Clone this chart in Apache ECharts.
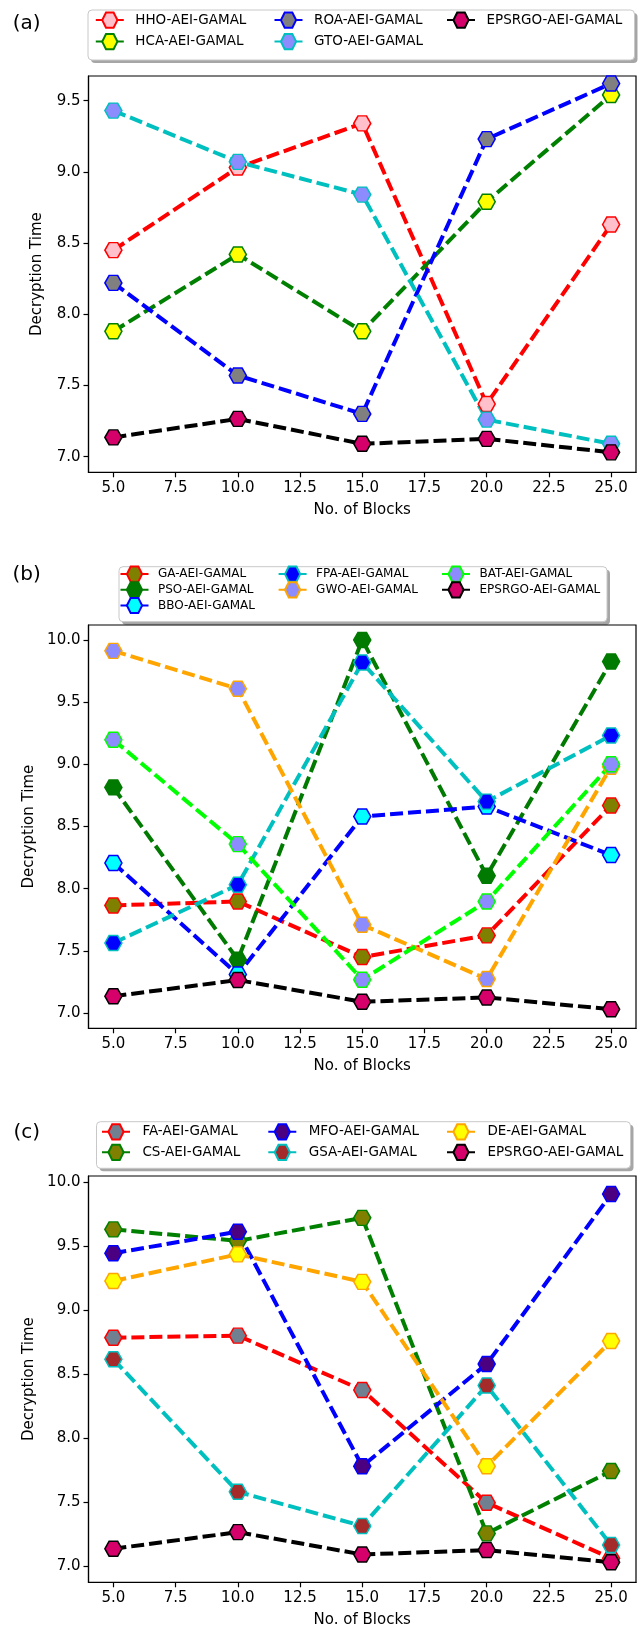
<!DOCTYPE html>
<html><head><meta charset="utf-8">
<script src="https://cdn.jsdelivr.net/npm/echarts@6/dist/echarts.min.js"></script>
<style>html,body{margin:0;padding:0;background:#fff}#c{width:643px;height:1630px}</style>
</head><body><div id="c"></div>
<script>
const blocks = [5, 10, 15, 20, 25];
const xTicks = [5, 7.5, 10, 12.5, 15, 17.5, 20, 22.5, 25];
const yTicksA = [7.0, 7.5, 8.0, 8.5, 9.0, 9.5];
const yTicksBC = [7.0, 7.5, 8.0, 8.5, 9.0, 9.5, 10.0];

// panel (a)
const hhoA = [8.45, 9.03, 9.34, 7.37, 8.63];
const hcaA = [7.88, 8.42, 7.88, 8.79, 9.54];
const roaA = [8.22, 7.57, 7.30, 9.23, 9.62];
const gtoA = [9.43, 9.07, 8.84, 7.26, 7.09];
// EPSRGO (same in all panels)
const epsrgo = [7.135, 7.265, 7.09, 7.125, 7.03];
// panel (b)
const gaB = [7.865, 7.897, 7.45, 7.624, 8.669];
const psoB = [8.814, 7.428, 10.0, 8.104, 9.826];
const bboB = [8.206, 7.31, 8.58, 8.66, 8.27];
const fpaB = [7.563, 8.031, 9.818, 8.70, 9.232];
const gwoB = [9.912, 9.607, 7.71, 7.273, 8.98];
const batB = [9.197, 8.358, 7.268, 7.897, 9.0];
// panel (c)
const faC = [8.784, 8.80, 8.375, 7.495, 7.06];
const csC = [9.63, 9.54, 9.72, 7.255, 7.742];
const mfoC = [9.443, 9.612, 7.78, 8.578, 9.906];
const gsaC = [8.615, 7.58, 7.3125, 8.41, 7.164];
const deC = [9.227, 9.435, 9.22, 7.78, 8.758];

const FONT = 'DejaVu Sans';
const HEX = 'path://M0,866L500,0L1500,0L2000,866L1500,1732L500,1732Z';
const DASH = [13, 5];

function mk(name, vals, idx, line, face, edge) {
  return {
    type: 'line', name: name, xAxisIndex: idx, yAxisIndex: idx,
    data: blocks.map((b, i) => [b, vals[i]]),
    symbol: HEX, symbolSize: [17, 15],
    lineStyle: { color: line, width: 4, type: DASH },
    itemStyle: { color: face, borderColor: edge, borderWidth: 1.5 },
    emphasis: { disabled: true }, animation: false, silent: true
  };
}

const grids = [
  { left: 88.5, top: 76, width: 547.5, height: 396.3 },
  { left: 88.5, top: 625, width: 547.5, height: 403.3 },
  { left: 88.5, top: 1176, width: 547.5, height: 406.3 }
];
const yRanges = [[6.89, 9.673], [6.877, 10.12], [6.873, 10.047]];
const yTickSets = [yTicksA, yTicksBC, yTicksBC];

const xAxes = grids.map((g, k) => ({
  gridIndex: k, type: 'value', min: 4, max: 26,
  axisLine: { show: true, onZero: false, lineStyle: { color: '#000', width: 1.2 } },
  axisTick: { show: true, customValues: xTicks, length: 5, lineStyle: { color: '#000', width: 1.2 } },
  axisLabel: { customValues: xTicks, formatter: v => v.toFixed(1), color: '#000', fontSize: 15, margin: 8, fontFamily: FONT },
  splitLine: { show: false },
  name: 'No. of Blocks', nameLocation: 'middle', nameGap: 30,
  nameTextStyle: { color: '#000', fontSize: 15, fontFamily: FONT }
}));
const yAxes = grids.map((g, k) => ({
  gridIndex: k, type: 'value', min: yRanges[k][0], max: yRanges[k][1],
  axisLine: { show: true, onZero: false, lineStyle: { color: '#000', width: 1.2 } },
  axisTick: { show: true, customValues: yTickSets[k], length: 5, lineStyle: { color: '#000', width: 1.2 } },
  axisLabel: { customValues: yTickSets[k], formatter: v => v.toFixed(1), color: '#000', fontSize: 15, margin: 8, fontFamily: FONT },
  splitLine: { show: false },
  name: 'Decryption Time', nameLocation: 'middle', nameGap: 44,
  nameTextStyle: { color: '#000', fontSize: 15, fontFamily: FONT }
}));

const series = [
  mk('HHO-AEI-GAMAL', hhoA, 0, '#ff0000', '#ffc0cb', '#ff0000'),
  mk('HCA-AEI-GAMAL', hcaA, 0, '#008000', '#ffff00', '#008000'),
  mk('ROA-AEI-GAMAL', roaA, 0, '#0000ff', '#808080', '#0000ff'),
  mk('GTO-AEI-GAMAL', gtoA, 0, '#00bfbf', '#8c8cff', '#00bfbf'),
  mk('EPSRGO-AEI-GAMAL', epsrgo, 0, '#000000', '#d6006a', '#000000'),

  mk('GA-AEI-GAMAL', gaB, 1, '#ff0000', '#808000', '#ff0000'),
  mk('PSO-AEI-GAMAL', psoB, 1, '#007a00', '#007a00', '#007a00'),
  mk('BBO-AEI-GAMAL', bboB, 1, '#0000ff', '#00ffff', '#0000ff'),
  mk('FPA-AEI-GAMAL', fpaB, 1, '#00bfbf', '#0000ff', '#00bfbf'),
  mk('GWO-AEI-GAMAL', gwoB, 1, '#ffa500', '#8c8cff', '#ffa500'),
  mk('BAT-AEI-GAMAL', batB, 1, '#00ff00', '#8c8cff', '#00ff00'),
  mk('EPSRGO-AEI-GAMAL', epsrgo, 1, '#000000', '#d6006a', '#000000'),

  mk('FA-AEI-GAMAL', faC, 2, '#ff0000', '#708090', '#ff0000'),
  mk('CS-AEI-GAMAL', csC, 2, '#008000', '#808000', '#008000'),
  mk('MFO-AEI-GAMAL', mfoC, 2, '#0000ff', '#4b0082', '#0000ff'),
  mk('GSA-AEI-GAMAL', gsaC, 2, '#00bfbf', '#a52a2a', '#00bfbf'),
  mk('DE-AEI-GAMAL', deC, 2, '#ffa500', '#ffff00', '#ffa500'),
  mk('EPSRGO-AEI-GAMAL', epsrgo, 2, '#000000', '#d6006a', '#000000')
];

function leg(names, left, top, fs, ih, gap, pad) {
  return {
    data: names, orient: 'vertical', left: left, top: top, padding: 0,
    itemWidth: 28, itemHeight: ih, itemGap: gap, selectedMode: false,
    textStyle: { color: '#000', fontSize: fs, fontFamily: FONT, padding: [0, 0, 0, pad] }
  };
}
const legends = [
  leg(['HHO-AEI-GAMAL', 'HCA-AEI-GAMAL'], 94.8, 11.5, 13.5, 19, 4.3, 6.5),
  leg(['ROA-AEI-GAMAL', 'GTO-AEI-GAMAL'], 273.5, 11.5, 13.5, 19, 4.3, 6.5),
  leg(['EPSRGO-AEI-GAMAL'], 446, 11.5, 13.5, 19, 4.3, 6.5),
  leg(['GA-AEI-GAMAL', 'PSO-AEI-GAMAL', 'BBO-AEI-GAMAL'], 119.5, 565.5, 12, 19, -1.5, 4.5),
  leg(['FPA-AEI-GAMAL', 'GWO-AEI-GAMAL'], 277.6, 565.5, 12, 19, -1.5, 4.5),
  leg(['BAT-AEI-GAMAL', 'EPSRGO-AEI-GAMAL'], 441, 565.5, 12, 19, -1.5, 4.5),
  leg(['FA-AEI-GAMAL', 'CS-AEI-GAMAL'], 101, 1123.2, 13.5, 19, 3.3, 7.4),
  leg(['MFO-AEI-GAMAL', 'GSA-AEI-GAMAL'], 267.3, 1123.2, 13.5, 19, 3.3, 7.4),
  leg(['DE-AEI-GAMAL', 'EPSRGO-AEI-GAMAL'], 446, 1123.2, 13.5, 19, 3.3, 7.4)
];

function box(x, y, w, h) {
  return [
    { type: 'rect', z: 1, silent: true, shape: { x: x + 3, y: y + 3, width: w, height: h, r: 4 }, style: { fill: 'rgba(0,0,0,0.35)' } },
    { type: 'rect', z: 2, silent: true, shape: { x: x, y: y, width: w, height: h, r: 4 }, style: { fill: '#fff', stroke: '#c8c8c8', lineWidth: 1 } }
  ];
}
function panel(t, y) {
  return { type: 'text', z: 3, silent: true, x: 26.7, y: y, style: { text: t, font: '20px "DejaVu Sans"', fill: '#000', align: 'center', verticalAlign: 'middle' } };
}
const graphic = [].concat(
  box(88, 10, 546.5, 50), box(119, 566.7, 488, 55), box(96.5, 1121.7, 534, 46.6),
  [panel('(a)', 24), panel('(b)', 575), panel('(c)', 1132.5)]
);

const chart = echarts.init(document.getElementById('c'), null, { renderer: 'canvas' });
chart.setOption({
  animation: false,
  backgroundColor: '#fff',
  grid: grids.map(g => Object.assign({ show: true, borderColor: '#000', borderWidth: 1.2, backgroundColor: 'transparent' }, g)),
  xAxis: xAxes, yAxis: yAxes,
  legend: legends,
  graphic: graphic,
  series: series
});
</script></body></html>
